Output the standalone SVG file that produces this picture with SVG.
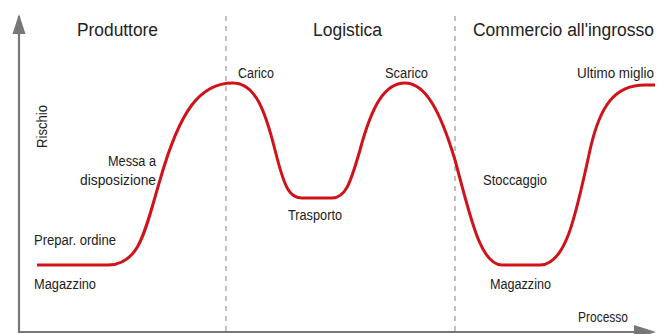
<svg xmlns="http://www.w3.org/2000/svg" width="670" height="334" viewBox="0 0 670 334">
<style>
.t{font-family:"Liberation Sans",Arial,sans-serif;fill:#222;}
.h{font-size:18px;}
.l{font-size:14px;}
.ax{stroke:#777;stroke-width:2.2;fill:none;}
.dash{stroke:#999;stroke-width:1.2;stroke-dasharray:5,5;fill:none;}
.curve{stroke:#d0121b;stroke-width:3;fill:none;}
</style>
<rect width="670" height="334" fill="#fff"/>
<g id="connectors">
<line class="ax" x1="19" y1="333" x2="19" y2="16" />
<path d="M12.5,34 L19,14 L25.5,34 z" fill="#777"/>
<line class="ax" x1="19" y1="332" x2="640" y2="332"/>
<path d="M634,325 L656,332 L634,339 z" fill="#777"/>
<line class="dash" x1="226" y1="16" x2="226" y2="332"/>
<line class="dash" x1="455" y1="16" x2="455" y2="332"/>
<path class="curve" d="M37,265 H108 C140,265 145,230 160,180 C180,110 200,83 233,83 C255,83 265,110 275,150 C285,190 290,198 302,198 H332 C345,198 350,185 360,150 C372,105 385,83 405,83 C425,83 440,110 455,160 C470,215 480,265 502,265 H540 C565,265 575,220 590,150 C600,105 615,85 645,85 H655"/>
</g>
<g id="heading-produttore"><text class="t h" x="77" y="36" textLength="81" lengthAdjust="spacingAndGlyphs">Produttore</text></g>
<g id="heading-logistica"><text class="t h" x="313" y="36" textLength="69" lengthAdjust="spacingAndGlyphs">Logistica</text></g>
<g id="heading-commercio"><text class="t h" x="473" y="36" textLength="181" lengthAdjust="spacingAndGlyphs">Commercio all'ingrosso</text></g>
<g id="axis-rischio"><text class="t l" transform="translate(47,148) rotate(-90)" textLength="43" lengthAdjust="spacingAndGlyphs">Rischio</text></g>
<g id="axis-processo"><text class="t l" x="578" y="322" textLength="50" lengthAdjust="spacingAndGlyphs">Processo</text></g>
<g id="node-magazzino1"><text class="t l" x="34" y="289" textLength="62" lengthAdjust="spacingAndGlyphs">Magazzino</text></g>
<g id="node-prepar"><text class="t l" x="34" y="245" textLength="82" lengthAdjust="spacingAndGlyphs">Prepar. ordine</text></g>
<g id="node-messa"><text class="t l" x="108" y="166" textLength="48" lengthAdjust="spacingAndGlyphs">Messa a</text><text class="t l" x="80" y="185" textLength="76" lengthAdjust="spacingAndGlyphs">disposizione</text></g>
<g id="node-carico"><text class="t l" x="238" y="78" textLength="36" lengthAdjust="spacingAndGlyphs">Carico</text></g>
<g id="node-trasporto"><text class="t l" x="288" y="220" textLength="54" lengthAdjust="spacingAndGlyphs">Trasporto</text></g>
<g id="node-scarico"><text class="t l" x="385" y="78" textLength="43" lengthAdjust="spacingAndGlyphs">Scarico</text></g>
<g id="node-stoccaggio"><text class="t l" x="483" y="185" textLength="64" lengthAdjust="spacingAndGlyphs">Stoccaggio</text></g>
<g id="node-magazzino2"><text class="t l" x="490" y="289" textLength="61" lengthAdjust="spacingAndGlyphs">Magazzino</text></g>
<g id="node-ultimo"><text class="t l" x="577" y="78" textLength="77" lengthAdjust="spacingAndGlyphs">Ultimo miglio</text></g>
</svg>
